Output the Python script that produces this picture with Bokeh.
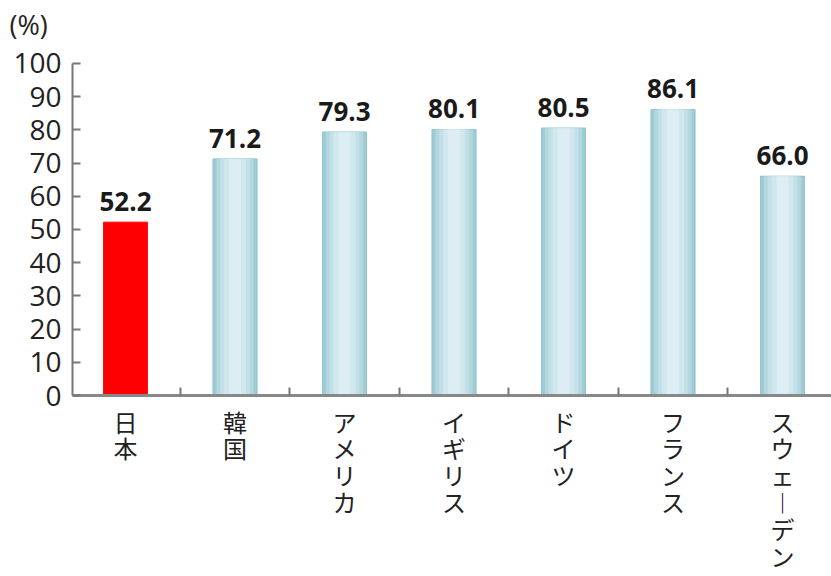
from bokeh.plotting import figure
from bokeh.models import Range1d, FixedTicker, ColumnDataSource
from bokeh.core.properties import value
from bokeh.embed import file_html
from bokeh.resources import INLINE

countries = ["日本", "韓国", "アメリカ", "イギリス", "ドイツ", "フランス", "スウェーデン"]
rates = [52.2, 71.2, 79.3, 80.1, 80.5, 86.1, 66.0]
value_labels = ["52.2", "71.2", "79.3", "80.1", "80.5", "86.1", "66.0"]
y_ticks = [0, 10, 20, 30, 40, 50, 60, 70, 80, 90, 100]

xs = list(range(len(countries)))
colors = ["#ff0000"] + ["#a6cedb"] * (len(countries) - 1)

def vertical(s):
    return "\n".join("︱" if c == "ー" else c for c in s)

src = ColumnDataSource(dict(x=xs, y=rates, color=colors, lab=value_labels))
blue = ColumnDataSource(dict(x=xs[1:], y=rates[1:]))

p = figure(width=831, height=576, output_backend="svg", toolbar_location=None,
           x_range=Range1d(-0.484, 6.447), y_range=Range1d(0, 105.4),
           min_border_left=72, min_border_right=0, min_border_top=45,
           min_border_bottom=181)
p.outline_line_color = None
p.grid.grid_line_color = None
p.background_fill_color = "white"
p.border_fill_color = "white"

p.title.text = "(%)"
p.title.align = "left"
p.title.offset = -63
p.title.standoff = 6
p.title.text_font = "Open Sans"
p.title.text_font_size = "27px"
p.title.text_font_style = "normal"
p.title.text_color = "#222222"

# bars
p.vbar(x="x", top="y", width=0.40, source=src, fill_color="color",
       line_color="color", line_width=1)
# cylinder-like shading for blue bars
p.vbar(x="x", top="y", width=0.40, source=blue, fill_color="#9fcbd5", line_color="#94c3ce")
p.vbar(x="x", top="y", width=0.34, source=blue, fill_color="#b2d7df", line_color=None)
p.vbar(x="x", top="y", width=0.27, source=blue, fill_color="#c3e0e8", line_color=None)
p.vbar(x="x", top="y", width=0.20, source=blue, fill_color="#d1e7ee", line_color=None)
p.vbar(x="x", top="y", width=0.11, source=blue, fill_color="#dcedf3", line_color=None)

p.text(x="x", y="y", text="lab", source=src, text_align="center",
       text_baseline="alphabetic", y_offset=-21, text_font_size="26px",
       text_font=value("Open Sans"), text_font_style="bold", text_color="#1a1a1a")

# y axis
p.yaxis.ticker = FixedTicker(ticks=y_ticks)
p.yaxis.bounds = (0, 100)
p.yaxis.major_tick_in = 8
p.yaxis.major_tick_out = 0
p.yaxis.minor_tick_line_color = None
p.yaxis.axis_line_color = "#777777"
p.yaxis.axis_line_width = 2
p.yaxis.major_tick_line_color = "#777777"
p.yaxis.major_tick_line_width = 2
p.yaxis.major_label_text_font = "Open Sans"
p.yaxis.major_label_text_font_size = "28px"
p.yaxis.major_label_text_color = "#222222"
p.yaxis.major_label_standoff = 11

# x axis
p.xaxis.ticker = FixedTicker(ticks=xs, minor_ticks=[i + 0.5 for i in xs[:-1]])
p.xaxis.major_label_overrides = {i: vertical(c) for i, c in enumerate(countries)}
p.xaxis.major_tick_line_color = None
p.xaxis.minor_tick_in = 8
p.xaxis.minor_tick_out = 0
p.xaxis.minor_tick_line_color = "#777777"
p.xaxis.minor_tick_line_width = 2
p.xaxis.axis_line_color = "#888888"
p.xaxis.axis_line_width = 3
p.xaxis.major_label_text_font = "Noto Sans CJK JP"
p.xaxis.major_label_text_font_size = "24px"
p.xaxis.major_label_text_line_height = 0.77
p.xaxis.major_label_text_color = "#222222"
p.xaxis.major_label_standoff = 2

open("out.html", "w").write(file_html(p, INLINE))
